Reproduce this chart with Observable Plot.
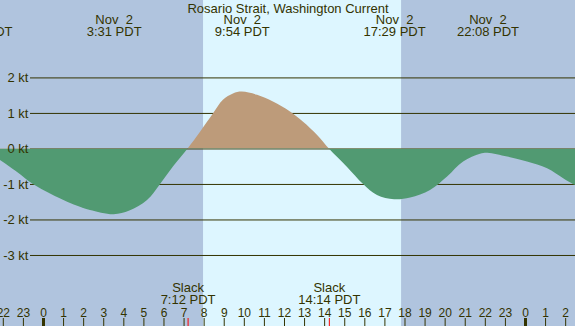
<!DOCTYPE html>
<html>
<head>
<meta charset="utf-8">
<script src="https://cdn.jsdelivr.net/npm/d3@7"></script>
<script src="https://cdn.jsdelivr.net/npm/@observablehq/plot@0.6"></script>
<style>
  html, body { margin: 0; padding: 0; background: #b0c4de; }
  svg text { white-space: pre; }
</style>
</head>
<body>
<div id="chart"></div>
<script>
// Hours from midnight of Nov 2 (PDT) and current speed in knots (+ flood, - ebb)
const hours = [-2.2, -1.29, -0.5, 0.35, 1.2, 1.84, 2.34, 3.517, 4.3, 5.18, 5.83, 6.47, 7.2,
  7.82, 8.47, 8.96, 9.46, 9.9, 10.66, 11.45, 12.3, 12.95, 13.65, 14.233,
  15.14, 15.94, 16.63, 17.483, 18.28, 19.27, 20.12, 20.92, 21.76, 22.133, 23.11, 24.1, 25.1, 25.9, 26.39, 26.6];
const speeds = [-0.30, -0.66, -1.0, -1.27, -1.5, -1.64, -1.73, -1.85, -1.75, -1.45, -1.0, -0.51, 0,
  0.47, 0.99, 1.37, 1.55, 1.60, 1.51, 1.32, 1.04, 0.75, 0.38, 0,
  -0.52, -1.0, -1.31, -1.43, -1.38, -1.17, -0.79, -0.37, -0.15, -0.12, -0.23, -0.37, -0.56, -0.84, -1.0, -1.05];

const title = "Rosario Strait, Washington Current";
const eventHours = [-3.09, 3.517, 9.9, 17.483, 22.133];
const eventLabels = ["Nov  1\n21:04 PDT", "Nov  2\n3:31 PDT", "Nov  2\n9:54 PDT", "Nov  2\n17:29 PDT", "Nov  2\n22:08 PDT"];
const slackHours = [7.2, 14.233];
const slackLabels = ["Slack\n7:12 PDT", "Slack\n14:14 PDT"];
const sunrise = 7.97, sunset = 17.83;
const yTicks = [2, 1, 0, -1, -2, -3];
const hourTicks = d3.range(-2, 27);
const xDomain = [-2.14, 26.49];
const yDomain = [-5.0, 4.18];

const ink = "#333300";
const ebb = "#519a72";
const flood = "#bd9b7a";
const day = "#ddf6ff";
const night = "#b0c4de";

const data = hours.map((h, i) => ({h, v: speeds[i]}));
const events = eventHours.map((h, i) => ({h, label: eventLabels[i]}));
const slacks = slackHours.map((h, i) => ({h, label: slackLabels[i]}));

const chart = Plot.plot({
  width: 575,
  height: 326,
  margin: 0,
  x: {domain: xDomain, axis: null},
  y: {domain: yDomain, axis: null},
  style: {background: night, fontFamily: "'Liberation Sans', Arial, sans-serif", fontSize: "13px", color: ink},
  marks: [
    Plot.rect([{x1: sunrise, x2: sunset}], {x1: "x1", x2: "x2", y1: yDomain[0], y2: yDomain[1], fill: day}),
    Plot.ruleY(yTicks, {y: d => d, stroke: ink, strokeWidth: 1, insetLeft: 30}),
    Plot.areaY(data, {x: "h", y: "v", fill: ebb, curve: "catmull-rom"}),
    Plot.areaY(data, {x: "h", y: "v", fill: flood, curve: "catmull-rom"}),
    Plot.text(yTicks, {y: d => d, text: d => `${d} kt`, frameAnchor: "left", textAnchor: "end", dx: 28, fill: ink, fontSize: 13}),
    Plot.ruleX(hourTicks, {x: d => d, insetTop: 318, stroke: ink, strokeWidth: d => (d % 24 === 0 ? 3 : 1)}),
    Plot.ruleX(slackHours, {x: d => d, insetTop: 318, stroke: "red", strokeWidth: 1}),
    Plot.text(hourTicks, {x: d => d, text: d => String(((d % 24) + 24) % 24), frameAnchor: "bottom", lineAnchor: "bottom", dy: -10, fill: ink, fontSize: 12}),
    Plot.text(events, {x: "h", text: "label", frameAnchor: "top", lineAnchor: "top", dy: 15, lineHeight: 0.92, fill: ink, fontSize: 13}),
    Plot.text(slacks, {x: "h", text: "label", frameAnchor: "bottom", lineAnchor: "bottom", dy: -22.5, lineHeight: 0.92, fill: ink, fontSize: 13}),
    Plot.text([title], {text: d => d, frameAnchor: "top", lineAnchor: "top", dy: 3, fill: ink, fontSize: 13})
  ]
});

// Split the single current curve at the zero line: ebb below, flood above.
const y0 = chart.scale("y").apply(0);
const svg = d3.select(chart);
const defs = svg.insert("defs", ":first-child");
defs.append("clipPath").attr("id", "clip-above")
  .append("rect").attr("x", 0).attr("y", 0).attr("width", 575).attr("height", y0);
defs.append("clipPath").attr("id", "clip-below")
  .append("rect").attr("x", 0).attr("y", y0).attr("width", 575).attr("height", 326 - y0);
const areas = svg.selectAll('g[aria-label="area"]').nodes();
if (areas.length === 2) {
  d3.select(areas[0]).attr("clip-path", "url(#clip-below)");
  d3.select(areas[1]).attr("clip-path", "url(#clip-above)");
}
document.getElementById("chart").appendChild(chart);
</script>
</body>
</html>
